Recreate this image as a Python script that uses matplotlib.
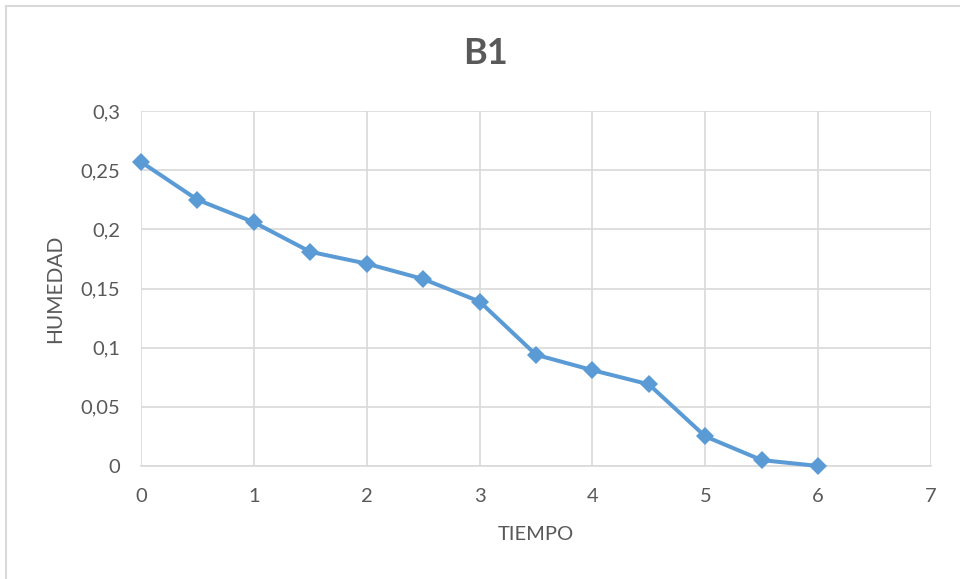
import matplotlib
matplotlib.use("Agg")
import matplotlib.pyplot as plt
from matplotlib.lines import Line2D

tiempo = [0, 0.5, 1, 1.5, 2, 2.5, 3, 3.5, 4, 4.5, 5, 5.5, 6]
humedad = [0.257, 0.225, 0.206, 0.181, 0.171, 0.158, 0.139, 0.094, 0.081, 0.069, 0.025, 0.005, 0.0]
x_ticks = [0, 1, 2, 3, 4, 5, 6, 7]
y_ticks = [0, 0.05, 0.1, 0.15, 0.2, 0.25, 0.3]
y_tick_labels = ["0", "0,05", "0,1", "0,15", "0,2", "0,25", "0,3"]

plt.rcParams['font.family'] = ['Lato', 'DejaVu Sans']
text_color = "#595959"
grid_color = "#d9d9d9"
line_color = "#5b9bd5"

W, H = 960, 579
fig = plt.figure(figsize=(W / 100, H / 100), dpi=100)
fig.patch.set_facecolor("white")

# chart area border (top and left edges visible)
fig.add_artist(Line2D([6 / W, 1.0], [1 - 6 / H, 1 - 6 / H], color=grid_color, lw=1.5))
fig.add_artist(Line2D([6 / W, 6 / W], [0.0, 1 - 6 / H], color=grid_color, lw=1.5))

left, right = 141 / W, 931 / W
bottom, top = 1 - 466 / H, 1 - 111 / H
ax = fig.add_axes([left, bottom, right - left, top - bottom])

ax.plot(tiempo, humedad, color=line_color, lw=2.9, marker="D", markersize=9.5,
        markeredgewidth=0, solid_joinstyle="round", zorder=3, clip_on=False)

ax.set_xlim(0, 7)
ax.set_ylim(0, 0.3)
ax.set_xticks(x_ticks)
ax.set_yticks(y_ticks)
ax.set_yticklabels(y_tick_labels)
ax.grid(True, color=grid_color, lw=1.2)
ax.set_axisbelow(True)
for s in ["top", "right", "left"]:
    ax.spines[s].set_visible(False)
ax.spines["bottom"].set_color(grid_color)
ax.spines["bottom"].set_linewidth(1.2)
ax.tick_params(axis="both", length=0, labelsize=14.5, colors=text_color)
ax.tick_params(axis="x", pad=16)
ax.tick_params(axis="y", pad=15)

ax.set_xlabel("TIEMPO", fontsize=14.5, color=text_color, va="center")
ax.xaxis.set_label_coords(0.5, (466 - 535) / 355)
ax.set_ylabel("HUMEDAD", fontsize=15, color=text_color, va="center")
ax.yaxis.set_label_coords((55 - 141) / 790, 0.5)

fig.text(486 / W, 1 - 53 / H, "B1", ha="center", va="center", fontsize=26,
         fontweight="bold", color=text_color)

fig.savefig("out.png", dpi=100)
